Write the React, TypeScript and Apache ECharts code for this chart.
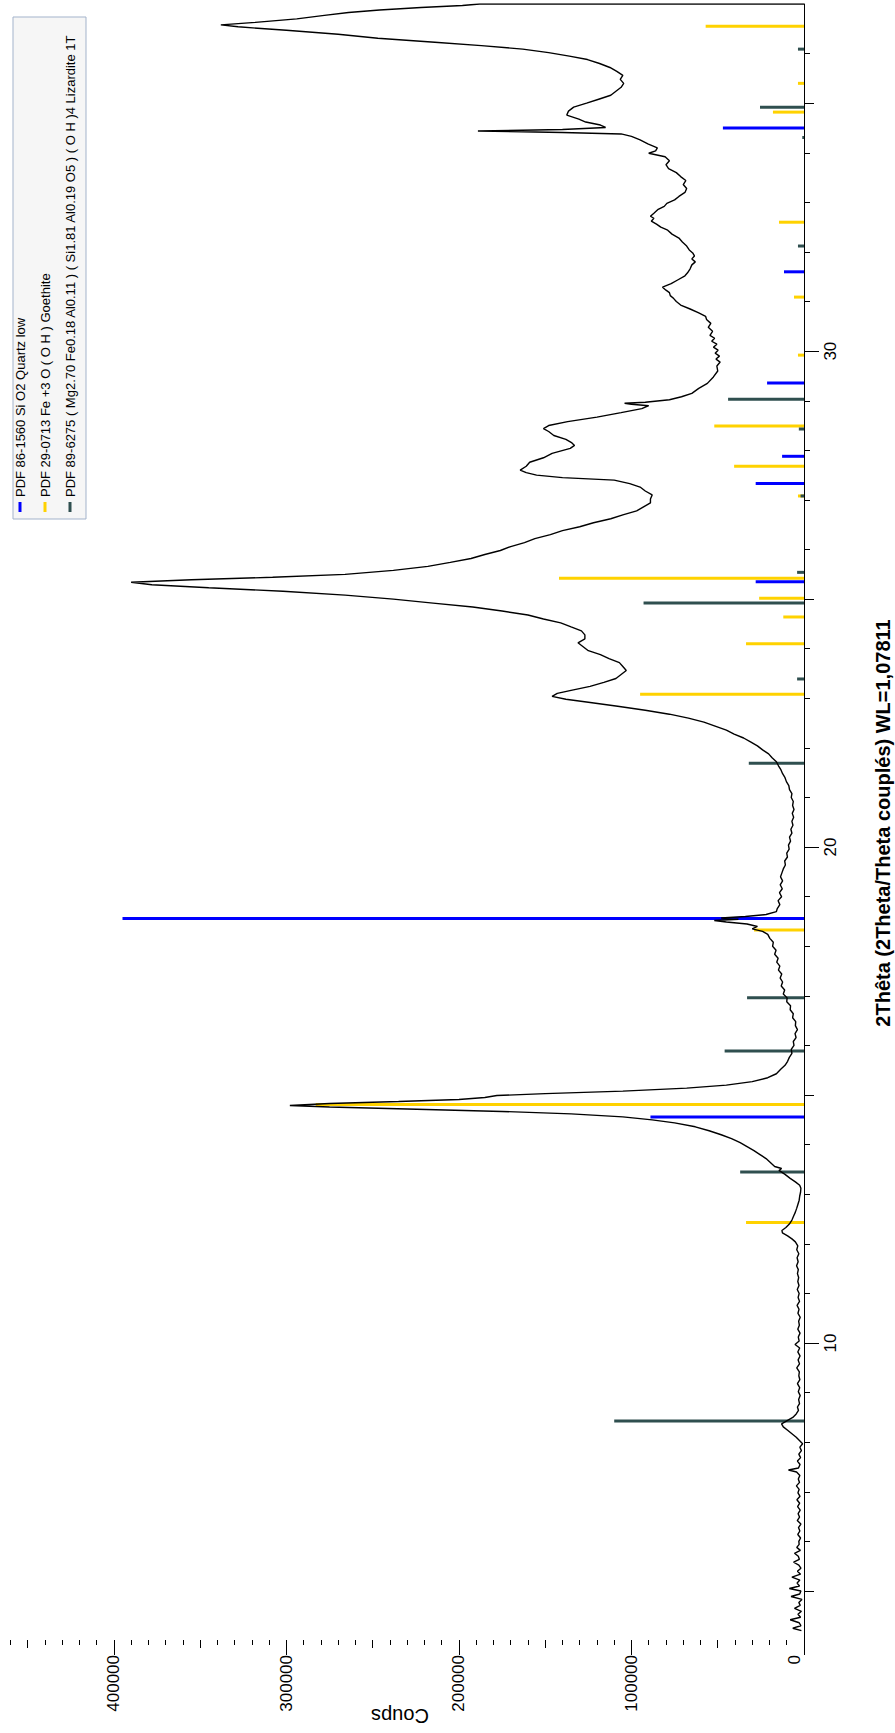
import React, { useEffect, useRef } from 'react';
import * as echarts from 'echarts';

const W = 895;
const H = 1733;

// ---- 2θ axis (vertical) ----
const thetaMin = 3.75;
const thetaMax = 37;
const thetaLabelTicks = [10, 20, 30];
const thetaMidTicks = [5, 10, 15, 20, 25, 30, 35];
const thetaMinorTicks = [5, 6, 7, 8, 9, 10, 11, 12, 13, 14, 15, 16, 17, 18, 19, 20, 21, 22, 23, 24, 25, 26, 27, 28, 29, 30, 31, 32, 33, 34, 35, 36];

// ---- counts axis (horizontal, inverse) ----
const countMax = 466000;
const countLabelTicks = [0, 100000, 200000, 300000, 400000];
const countMidTicks = [0, 50000, 100000, 150000, 200000, 250000, 300000, 350000, 400000, 450000];
const countMinorTicks = [0, 10000, 20000, 30000, 40000, 50000, 60000, 70000, 80000, 90000, 100000, 110000, 120000, 130000, 140000, 150000, 160000, 170000, 180000, 190000, 200000, 210000, 220000, 230000, 240000, 250000, 260000, 270000, 280000, 290000, 300000, 310000, 320000, 330000, 340000, 350000, 360000, 370000, 380000, 390000, 400000, 410000, 420000, 430000, 440000, 450000, 460000];

// ---- measured scan: [2θ, counts] ----
const scanLow = [
  [4.20, 1500], [4.25, 6500], [4.30, 1800], [4.36, 2800], [4.42, 8000], [4.47, 2000], [4.53, 3500], [4.59, 1500], [4.65, 5500], [4.71, 2200],
  [4.77, 3000], [4.83, 1200], [4.89, 7500], [4.94, 2500], [5.00, 1800], [5.05, 8500], [5.10, 2600], [5.16, 4000], [5.22, 2400], [5.28, 7000],
  [5.34, 2000], [5.40, 3800], [5.46, 1800], [5.52, 3000], [5.58, 6000], [5.64, 2700], [5.70, 3300], [5.76, 5500], [5.82, 2100], [5.88, 4200],
  [5.94, 2800], [6.00, 3000], [6.07, 2000], [6.14, 3600], [6.21, 2400], [6.28, 3200], [6.35, 1800], [6.42, 3900], [6.49, 2600], [6.56, 3400],
  [6.63, 2200], [6.70, 3700], [6.77, 2500], [6.84, 4100], [6.91, 2300], [6.98, 3500], [7.05, 2800], [7.12, 4400], [7.19, 2600], [7.26, 3300],
  [7.33, 2400], [7.40, 4300], [7.44, 9000], [7.48, 3200], [7.55, 2300], [7.62, 3800], [7.69, 2000], [7.76, 3000], [7.83, 1500], [7.90, 2400],
  [7.97, 800], [8.03, 2500], [8.10, 4500], [8.17, 7000], [8.24, 9500], [8.31, 12000], [8.37, 13000], [8.43, 10000], [8.50, 6500], [8.57, 4500],
  [8.64, 3200], [8.71, 3800], [8.78, 2600], [8.86, 3100], [8.94, 2200], [9.02, 3300], [9.10, 2500], [9.18, 3800], [9.26, 2400], [9.34, 3000],
  [9.42, 2700], [9.50, 4200], [9.58, 2600], [9.66, 3400], [9.74, 2300], [9.82, 3600], [9.90, 2500], [9.97, 5200], [10.04, 2800], [10.12, 3300],
  [10.20, 2300], [10.28, 3600], [10.36, 2700], [10.44, 3100], [10.52, 2200], [10.60, 3500], [10.68, 2900], [10.76, 4000], [10.84, 2600], [10.92, 3400],
  [11.00, 2800], [11.08, 3900], [11.16, 2900], [11.24, 3600], [11.32, 3100], [11.40, 3800], [11.48, 3300], [11.56, 4300], [11.64, 3400], [11.72, 4000],
  [11.80, 3000], [11.88, 4200], [11.96, 3600],
];

const scanGoethite110 = [
  [12.04, 5000], [12.10, 7000], [12.16, 9500], [12.22, 12500], [12.27, 12800], [12.33, 10500], [12.40, 8500], [12.48, 7000], [12.56, 6000], [12.64, 5000],
  [12.72, 4200], [12.80, 3500], [12.88, 2800], [12.96, 2500], [13.04, 2000], [13.12, 1800], [13.18, 2500], [13.25, 5000], [13.32, 8000], [13.40, 11000],
  [13.48, 14500], [13.52, 13000], [13.56, 17000], [13.64, 19500], [13.72, 22000], [13.80, 25500], [13.88, 29000], [13.96, 33000], [14.04, 37000], [14.12, 42000],
  [14.20, 48000], [14.28, 55000], [14.36, 63000], [14.44, 75000], [14.50, 88000], [14.56, 105000], [14.62, 135000], [14.67, 175000], [14.72, 230000], [14.76, 275000],
  [14.79, 298000], [14.83, 275000], [14.87, 235000], [14.91, 200000], [14.95, 185000], [14.99, 178000], [15.03, 150000], [15.08, 105000], [15.14, 68000], [15.20, 45000],
  [15.27, 30000], [15.35, 21000], [15.43, 16000], [15.52, 13500], [15.60, 11000], [15.68, 9500],
];

const scanQuartz101 = [
  [15.76, 8500], [15.84, 7000], [15.92, 7400], [16.00, 5800], [16.08, 6200], [16.16, 4600], [16.24, 5200], [16.32, 3800], [16.40, 5000], [16.48, 4800],
  [16.56, 6600], [16.64, 6200], [16.72, 8000], [16.80, 7800], [16.88, 10000], [16.96, 9800], [17.04, 12000], [17.12, 11200], [17.20, 13200], [17.28, 12400],
  [17.36, 13800], [17.44, 12900], [17.52, 14800], [17.60, 14000], [17.68, 15800], [17.76, 15000], [17.84, 17000], [17.92, 16200], [18.00, 18200], [18.08, 17800],
  [18.16, 19800], [18.24, 21000], [18.30, 24000], [18.35, 30000], [18.40, 27000], [18.45, 33000], [18.49, 45000], [18.52, 52000], [18.545, 38000], [18.57, 48000],
  [18.60, 34000], [18.64, 22000], [18.70, 16000], [18.76, 15500], [18.84, 14000], [18.92, 15000], [19.00, 13000], [19.08, 14200], [19.16, 12600], [19.24, 13800],
  [19.32, 12400], [19.40, 13600], [19.48, 12800], [19.56, 12000], [19.64, 10800], [19.72, 11200], [19.80, 9600], [19.88, 10000], [19.96, 8600], [20.04, 9000],
  [20.12, 7800], [20.20, 8400], [20.28, 7000], [20.36, 7600], [20.44, 6400], [20.52, 7000], [20.60, 6000], [20.68, 6800], [20.76, 5800], [20.84, 6600],
  [20.92, 6200], [21.00, 7400], [21.08, 7000], [21.16, 8400], [21.24, 8800], [21.32, 10200], [21.40, 11000], [21.48, 12400], [21.56, 13400], [21.64, 14800],
];

const scanMid = [
  [21.72, 16000], [21.80, 18500], [21.88, 20500], [21.96, 24000], [22.04, 27000], [22.12, 31000], [22.20, 35000], [22.28, 40500], [22.36, 45000], [22.44, 51500],
  [22.52, 58000], [22.60, 67000], [22.68, 78000], [22.76, 92000], [22.84, 108000], [22.92, 125000], [22.98, 138000], [23.04, 146000], [23.10, 143000], [23.16, 135000],
  [23.24, 124000], [23.32, 116000], [23.40, 109000], [23.48, 106000], [23.56, 103000], [23.64, 105000], [23.72, 107000], [23.80, 113000], [23.88, 118000], [23.96, 125000],
  [24.04, 128000], [24.12, 131000], [24.20, 127000], [24.28, 127000], [24.36, 129000], [24.44, 135000], [24.52, 141000], [24.60, 151000], [24.68, 160000], [24.76, 175000],
  [24.84, 192000], [24.92, 215000], [25.00, 238000], [25.08, 266000], [25.16, 302000], [25.23, 345000], [25.29, 378000], [25.34, 390000], [25.39, 355000], [25.44, 308000],
  [25.50, 266000], [25.58, 238000], [25.66, 218000], [25.74, 205000], [25.82, 193000], [25.90, 185000], [25.98, 176000], [26.06, 170000], [26.14, 162000], [26.22, 156000],
  [26.30, 147000], [26.38, 140000], [26.46, 130000], [26.54, 122000], [26.62, 112000], [26.70, 105000], [26.78, 97000], [26.86, 93000], [26.94, 89000], [27.02, 89000],
  [27.10, 88000], [27.18, 92000], [27.26, 95000], [27.33, 101000], [27.40, 110000], [27.45, 140000], [27.50, 155000], [27.55, 161000], [27.60, 164500], [27.68, 161000],
  [27.76, 159000], [27.85, 151000], [27.94, 146000], [28.04, 135500], [28.10, 133000], [28.15, 134500], [28.22, 138000], [28.30, 145000], [28.38, 148000], [28.44, 151000],
  [28.50, 148000], [28.58, 137000], [28.67, 120000], [28.76, 106000], [28.84, 94000], [28.90, 90000], [28.93, 100000], [28.95, 104000], [28.97, 92000], [29.02, 78000],
  [29.08, 71000], [29.15, 65000], [29.25, 61000], [29.35, 56000], [29.48, 52500], [29.60, 50000], [29.70, 50500], [29.78, 48600],
];

const scanHigh = [
  [29.84, 51000], [29.90, 49000], [29.96, 51500], [30.02, 49800], [30.08, 52500], [30.14, 50500], [30.20, 53500], [30.26, 51800], [30.32, 54500], [30.40, 53000],
  [30.48, 55500], [30.56, 54000], [30.64, 56500], [30.70, 57000], [30.77, 61000], [30.85, 66000], [30.93, 71500], [31.00, 74000], [31.06, 75500], [31.12, 77500],
  [31.18, 78000], [31.23, 80000], [31.29, 82000], [31.36, 77000], [31.43, 73500], [31.52, 69000], [31.58, 67500], [31.66, 66000], [31.74, 65000], [31.80, 63000],
  [31.86, 65000], [31.92, 63500], [31.98, 64500], [32.04, 66500], [32.12, 68000], [32.20, 70500], [32.28, 72500], [32.36, 76500], [32.44, 79000], [32.50, 83000],
  [32.56, 85500], [32.62, 88500], [32.68, 87000], [32.72, 89000], [32.78, 87000], [32.86, 84500], [32.92, 81000], [32.98, 79500], [33.05, 75000], [33.12, 72500],
  [33.20, 69000], [33.28, 68000], [33.36, 70000], [33.44, 68500], [33.52, 71500], [33.60, 74000], [33.68, 78500], [33.76, 80000], [33.84, 78000], [33.92, 80500],
  [33.99, 90000], [34.04, 86000], [34.10, 85000], [34.18, 90500], [34.26, 95000], [34.33, 100000], [34.38, 106000], [34.41, 140000], [34.44, 189000], [34.47, 140000],
  [34.51, 115000], [34.56, 118000], [34.62, 126500], [34.68, 130500], [34.76, 137500], [34.84, 136500], [34.92, 133500], [35.00, 126000], [35.08, 119000], [35.16, 112000],
  [35.24, 109000], [35.32, 106000], [35.40, 104500], [35.48, 106500], [35.56, 105000], [35.64, 108500], [35.72, 112500], [35.80, 118500], [35.88, 125500], [35.95, 136000],
  [36.02, 148000], [36.09, 163000], [36.16, 187000], [36.23, 214000], [36.31, 247000], [36.39, 270000], [36.47, 300000], [36.54, 328000], [36.58, 338000], [36.63, 318000],
  [36.70, 294000], [36.77, 278000], [36.83, 264000], [36.88, 246000], [36.93, 222000], [36.97, 198000], [37.00, 188000], [37.00, 0],
];

// ---- reference patterns: [2θ, intensity in counts] ----
const quartzSticks = [
  [14.56, 89000], [18.56, 395000], [25.35, 28000], [27.33, 28000], [27.88, 12700], [29.36, 21400], [31.60, 11600], [34.50, 47000],
];
const goethiteSticks = [
  [12.43, 33600], [14.81, 283000], [18.33, 29000], [23.08, 95000], [24.10, 33600], [24.64, 12000], [25.02, 26000], [25.42, 142000],
  [27.08, 3500], [27.68, 40500], [28.49, 52000], [29.92, 3500], [31.09, 5800], [32.60, 14500], [34.82, 18000], [35.40, 3500], [36.55, 57000],
];
const lizarditeSticks = [
  [8.43, 110000], [13.45, 37000], [15.89, 46000], [16.96, 33000], [21.69, 32000], [23.39, 4000], [24.92, 93000], [25.54, 4000],
  [27.08, 2000], [28.43, 3000], [29.03, 44000], [32.12, 3500], [34.31, 1000], [34.92, 25500], [36.09, 3500],
];

const legendNames = [
  'PDF 86-1560 Si O2 Quartz low',
  'PDF 29-0713 Fe +3 O ( O H ) Goethite',
  'PDF 89-6275 ( Mg2.70 Fe0.18 Al0.11 ) ( Si1.81 Al0.19 O5 ) ( O H )4 Lizardite 1T',
];
const phaseColors = ['#0000ff', '#ffd200', '#2f4f4f'];

const xTitle = '2Thêta (2Theta/Theta couplés) WL=1,07811';
const yTitle = 'Coups';

const FONT = '"Liberation Sans", Arial, sans-serif';

function stickSeries(name: string, data: number[][], color: string) {
  return {
    type: 'custom',
    name,
    xAxisIndex: 0,
    yAxisIndex: 0,
    silent: true,
    z: 2,
    encode: { x: 0, y: 1 },
    data: data.map(([t, c]) => [c, t]),
    renderItem: (_params: any, api: any) => {
      const c = api.value(0);
      const t = api.value(1);
      const p0 = api.coord([0, t]);
      const p1 = api.coord([c, t]);
      return {
        type: 'line',
        shape: { x1: p0[0], y1: p0[1], x2: p1[0], y2: p1[1] },
        style: { stroke: color, lineWidth: 3 },
      };
    },
  };
}

function countAxis(ticks: number[], tickLen: number, labels: boolean) {
  return {
    type: 'value',
    inverse: true,
    min: 0,
    max: countMax,
    position: 'bottom',
    offset: -13,
    axisLine: { show: false },
    splitLine: { show: false },
    axisTick: { show: true, length: tickLen, customValues: ticks, lineStyle: { color: '#000', width: 1 } },
    axisLabel: labels
      ? {
          show: true,
          customValues: countLabelTicks,
          rotate: 90,
          margin: 15,
          fontSize: 17,
          color: '#000',
          fontFamily: FONT,
          formatter: (v: number) => (v === 0 ? '{z|0}' : String(v)),
          rich: { z: { fontSize: 17, fontFamily: FONT, color: '#000', padding: [0, 0, 20, 0] } },
        }
      : { show: false },
  };
}

function thetaAxis(ticks: number[], tickLen: number, line: boolean, labels: boolean) {
  return {
    type: 'value',
    min: thetaMin,
    max: thetaMax,
    position: 'right',
    axisLine: { show: line, lineStyle: { color: '#000', width: 1 } },
    splitLine: { show: false },
    axisTick: { show: true, length: tickLen, customValues: ticks, lineStyle: { color: '#000', width: 1 } },
    axisLabel: labels
      ? { show: true, customValues: thetaLabelTicks, rotate: 90, margin: 18, fontSize: 17, color: '#000', fontFamily: FONT }
      : { show: false },
  };
}

export default function App() {
  const ref = useRef<HTMLDivElement>(null);
  useEffect(() => {
    if (!ref.current) return;
    const chart = echarts.init(ref.current, null, { renderer: 'svg' });
    const scan = [...scanLow, ...scanGoethite110, ...scanQuartz101, ...scanMid, ...scanHigh].map(([t, c]) => [c, t]);

    const legendBottom = 497;
    const legendCols = [20, 45, 70];
    const graphic: any[] = [
      {
        type: 'rect',
        shape: { x: 13, y: 17, width: 73, height: 502 },
        style: { fill: '#f6f6f6', stroke: '#a3b3cb', lineWidth: 1 },
        z: 10,
      },
    ];
    legendNames.forEach((nm, i) => {
      graphic.push({
        type: 'rect',
        shape: { x: legendCols[i] - 1.5, y: legendBottom + 5, width: 3, height: 10 },
        style: { fill: phaseColors[i] },
        z: 11,
      });
      graphic.push({
        type: 'text',
        x: legendCols[i],
        y: legendBottom,
        rotation: Math.PI / 2,
        style: {
          text: nm,
          fill: '#000',
          font: `13px ${FONT}`,
          align: 'left',
          textAlign: 'left',
          verticalAlign: 'middle',
          textVerticalAlign: 'middle',
        },
        z: 11,
      });
    });
    graphic.push({
      type: 'text',
      x: 883,
      y: 823,
      rotation: Math.PI / 2,
      style: {
        text: xTitle,
        fill: '#000',
        font: `bold 20px ${FONT}`,
        align: 'center',
        textAlign: 'center',
        verticalAlign: 'middle',
        textVerticalAlign: 'middle',
      },
    });
    graphic.push({
      type: 'text',
      x: 400,
      y: 1716,
      rotation: Math.PI,
      style: {
        text: yTitle,
        fill: '#000',
        font: `20px ${FONT}`,
        align: 'center',
        textAlign: 'center',
        verticalAlign: 'middle',
        textVerticalAlign: 'middle',
      },
    });

    const option: any = {
      animation: false,
      backgroundColor: '#ffffff',
      grid: { left: 0, right: W - 804, top: 4, bottom: H - 1653, containLabel: false },
      xAxis: [
        countAxis(countMinorTicks, 5, false),
        countAxis(countMidTicks, 8, false),
        countAxis(countLabelTicks, 15, true),
      ],
      yAxis: [
        thetaAxis(thetaMinorTicks, 6, true, false),
        thetaAxis(thetaMidTicks, 10, false, false),
        thetaAxis(thetaLabelTicks, 15, false, true),
      ],
      graphic,
      series: [
        stickSeries(legendNames[0], quartzSticks, phaseColors[0]),
        stickSeries(legendNames[1], goethiteSticks, phaseColors[1]),
        stickSeries(legendNames[2], lizarditeSticks, phaseColors[2]),
        {
          type: 'line',
          name: 'scan',
          xAxisIndex: 0,
          yAxisIndex: 0,
          data: scan,
          showSymbol: false,
          symbol: 'none',
          z: 5,
          lineStyle: { color: '#000', width: 1.4 },
          silent: true,
        },
      ],
    };
    chart.setOption(option);
    return () => chart.dispose();
  }, []);
  return (
    <div
      ref={ref}
      style={{ position: 'absolute', left: 0, top: 0, width: W, height: H, background: '#fff' }}
    />
  );
}
